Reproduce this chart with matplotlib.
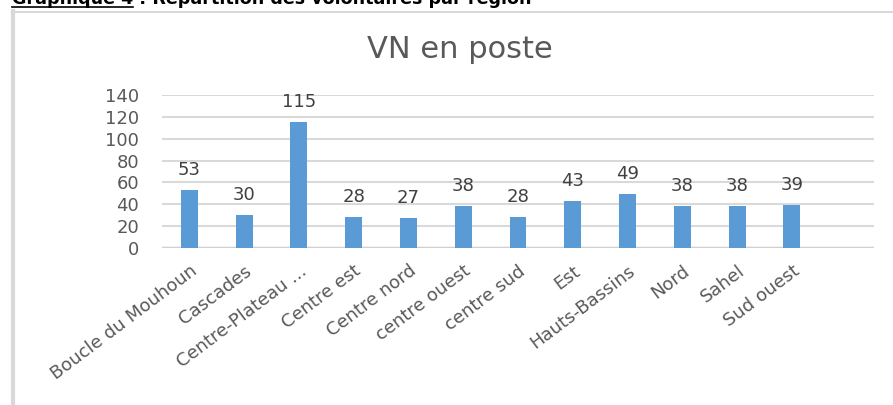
import matplotlib
matplotlib.use("Agg")
import matplotlib.pyplot as plt
from matplotlib.lines import Line2D

regions = ["Boucle du Mouhoun", "Cascades", "Centre-Plateau ...", "Centre est",
           "Centre nord", "centre ouest", "centre sud", "Est", "Hauts-Bassins",
           "Nord", "Sahel", "Sud ouest"]
vn_en_poste = [53, 30, 115, 28, 27, 38, 28, 43, 49, 38, 38, 39]
y_ticks = [0, 20, 40, 60, 80, 100, 120, 140]
chart_title = "VN en poste"
caption_bold = "Graphique 4"
caption_rest = " : Répartition des volontaires par région"

W, H = 893, 405
fig = plt.figure(figsize=(W / 100, H / 100), dpi=100)
fig.patch.set_facecolor("white")

ax = fig.add_axes([162 / W, 1 - 248 / H, (874 - 162) / W, (248 - 95) / H])
x = list(range(len(regions)))
ax.bar(x, vn_en_poste, width=0.31, color="#5b9bd5", zorder=3)

ax.set_xlim(-0.5, len(regions) + 0.5)
ax.set_ylim(0, 140)
ax.set_yticks(y_ticks)
ax.set_yticklabels([str(v) for v in y_ticks], fontsize=13, color="#595959")
ax.tick_params(axis="y", length=0, pad=16.5)
ax.tick_params(axis="x", length=0, pad=10)
ax.set_xticks(x)
ax.set_xticklabels(regions, rotation=37, ha="right", rotation_mode="anchor",
                   fontsize=13, color="#595959")
for s in ax.spines.values():
    s.set_visible(False)
ax.grid(axis="y", color="#d9d9d9", linewidth=1.5, zorder=0)
ax.axhline(0, color="#d0d0d0", linewidth=2.5, zorder=2)

for xi, v in zip(x, vn_en_poste):
    ax.annotate(str(v), (xi, v), xytext=(0, 8), textcoords="offset points",
                ha="center", va="bottom", fontsize=13, color="#404040")

fig.text(460 / W, 1 - 50 / H, chart_title, ha="center", va="center",
         fontsize=22, color="#595959")

# frame of the chart area
fig.add_artist(Line2D([13 / W, 13 / W], [0, 1 - 11 / H], transform=fig.transFigure,
                      color="#d9d9d9", linewidth=3))
fig.add_artist(Line2D([12 / W, 1], [1 - 12 / H, 1 - 12 / H], transform=fig.transFigure,
                      color="#d9d9d9", linewidth=1.5))

# clipped caption at the top
t1 = fig.text(12 / W, 1 - 4 / H, caption_bold, ha="left", va="baseline",
              fontsize=12.6, fontweight="bold", color="black")
fig.canvas.draw()
bb = t1.get_window_extent()
fig.text(bb.x1 / W, 1 - 4 / H, caption_rest, ha="left", va="baseline",
         fontsize=12.6, fontweight="bold", color="black")
fig.add_artist(Line2D([bb.x0 / W, bb.x1 / W], [1 - 6.5 / H, 1 - 6.5 / H],
                      transform=fig.transFigure, color="black", linewidth=1.2))

fig.savefig("out.png", dpi=100)
